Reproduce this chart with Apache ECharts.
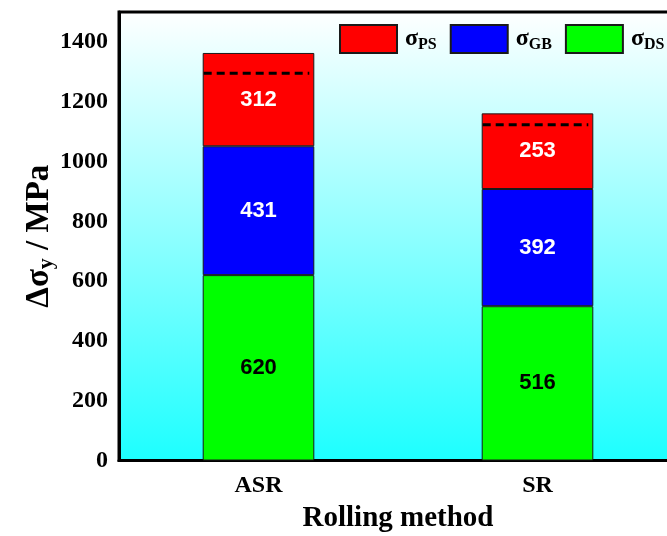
<!DOCTYPE html>
<html>
<head>
<meta charset="utf-8">
<script src="https://cdn.jsdelivr.net/npm/echarts@6/dist/echarts.min.js"></script>
<style>
  html, body { margin: 0; padding: 0; background: #fff; }
  #chart { width: 667px; height: 536px; }
</style>
</head>
<body>
<div id="chart"></div>
<script>
// Strengthening contributions per rolling method (MPa)
const categories = ['ASR', 'SR'];
const dsValues = [620, 516];   // σDS
const gbValues = [431, 392];   // σGB
const psValues = [312, 253];   // σPS
const measuredValues = [1295, 1123]; // dashed reference level on each bar

const serif = 'Liberation Serif';
const sans = 'Liberation Sans';

const chart = echarts.init(document.getElementById('chart'), null, { renderer: 'canvas' });

const barBorder = { borderColor: '#1a1a1a', borderWidth: 1 };

function valueLabel(color) {
  return {
    show: true,
    position: 'inside',
    color: color,
    fontFamily: sans,
    fontWeight: 'bold',
    fontSize: 22
  };
}

const subNames = { PS: 'PS', GB: 'GB', DS: 'DS' };

chart.setOption({
  animation: false,
  backgroundColor: '#ffffff',
  grid: {
    left: 119,
    width: 558,
    top: 12,
    bottom: 75.5,
    outerBoundsMode: 'none',
    containLabel: false,
    show: true,
    borderColor: '#000',
    borderWidth: 3,
    backgroundColor: {
      type: 'linear', x: 0, y: 0, x2: 0, y2: 1,
      colorStops: [
        { offset: 0, color: '#ffffff' },
        { offset: 1, color: '#1cffff' }
      ]
    }
  },
  legend: {
    data: ['PS', 'GB', 'DS'],
    left: 339,
    top: 24,
    padding: 0,
    itemWidth: 57,
    itemHeight: 28,
    itemGap: 13,
    icon: 'rect',
    formatter: function (name) {
      return '{s|σ}{b|' + subNames[name] + '}';
    },
    textStyle: {
      rich: {
        s: { fontFamily: serif, fontWeight: 'bold', fontSize: 24, color: '#000', padding: [0, 0, 0, 3] },
        b: { fontFamily: serif, fontWeight: 'bold', fontSize: 16, color: '#000', padding: [12, 0, 0, 0] }
      }
    }
  },
  xAxis: {
    type: 'category',
    data: categories,
    name: 'Rolling method',
    nameLocation: 'middle',
    nameGap: 44,
    nameMoveOverlap: false,
    nameTextStyle: { fontFamily: serif, fontWeight: 'bold', fontSize: 29, color: '#000' },
    axisLine: { lineStyle: { color: '#000', width: 3 } },
    axisTick: { alignWithLabel: true, inside: true, length: 8, lineStyle: { color: '#000', width: 3 } },
    axisLabel: { fontFamily: serif, fontWeight: 'bold', fontSize: 24, color: '#000', margin: 13 },
    splitLine: { show: false }
  },
  yAxis: [
    {
      type: 'value',
      min: 0,
      max: 1500,
      interval: 200,
      name: '{a|Δσ}{b|y}{a| / MPa}',
      nameLocation: 'middle',
      nameGap: 62,
      nameMoveOverlap: false,
      nameRotate: 90,
      nameTextStyle: {
        rich: {
          a: { fontFamily: serif, fontWeight: 'bold', fontSize: 33, color: '#000' },
          b: { fontFamily: serif, fontWeight: 'bold', fontSize: 22, color: '#000', padding: [14, 0, 0, 0] }
        }
      },
      axisLine: { show: true, lineStyle: { color: '#000', width: 3 } },
      axisTick: { inside: true, length: 9, lineStyle: { color: '#000', width: 3 } },
      axisLabel: {
        fontFamily: serif, fontWeight: 'bold', fontSize: 24, color: '#000', margin: 11,
        showMaxLabel: false,
        formatter: function (v) { return String(v); }
      },
      splitLine: { show: false }
    },
    {
      // short ticks every 100 MPa
      type: 'value',
      min: 0,
      max: 1500,
      interval: 100,
      position: 'left',
      axisLine: { show: false },
      axisTick: { inside: true, length: 5, lineStyle: { color: '#000', width: 2.5 } },
      axisLabel: { show: false },
      splitLine: { show: false }
    }
  ],
  series: [
    {
      name: 'DS', type: 'bar', stack: 'total', barWidth: '40%',
      data: dsValues,
      itemStyle: Object.assign({ color: '#00ff00' }, barBorder),
      label: valueLabel('#000')
    },
    {
      name: 'GB', type: 'bar', stack: 'total', barWidth: '40%',
      data: gbValues,
      itemStyle: Object.assign({ color: '#0000ff' }, barBorder),
      label: valueLabel('#fff')
    },
    {
      name: 'PS', type: 'bar', stack: 'total', barWidth: '40%',
      data: psValues,
      itemStyle: Object.assign({ color: '#ff0000' }, barBorder),
      label: valueLabel('#fff')
    },
    {
      name: 'measured',
      type: 'custom',
      z: 10,
      data: categories.map(function (c, i) { return [i, measuredValues[i]]; }),
      renderItem: function (params, api) {
        const p = api.coord([api.value(0), api.value(1)]);
        const band = api.size([1, 0])[0];
        const w = band * 0.4;
        const x0 = p[0] - w / 2 + 1;
        const x1 = p[0] + w / 2 - 5;
        return {
          type: 'line',
          shape: { x1: x0, y1: p[1], x2: x1, y2: p[1] },
          style: { stroke: '#000', lineWidth: 3, lineDash: [8, 5] }
        };
      }
    }
  ]
});
</script>
</body>
</html>
